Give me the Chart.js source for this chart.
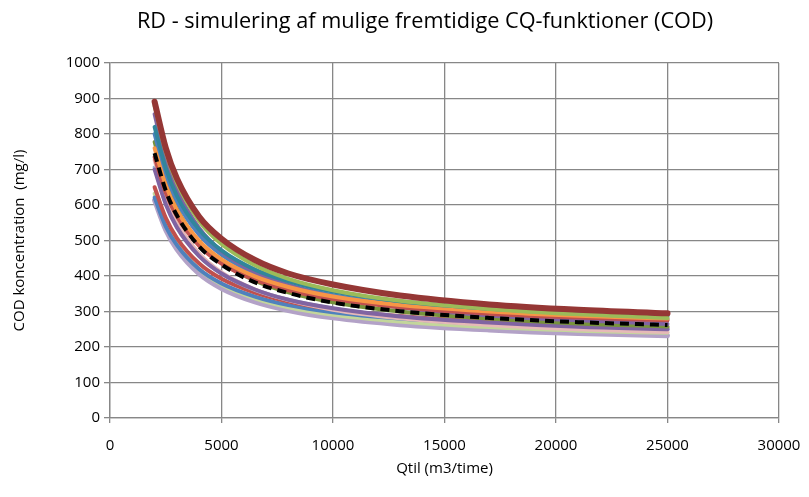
<!DOCTYPE html>
<html>
<head>
<meta charset="utf-8">
<script src="https://cdn.jsdelivr.net/npm/chart.js@4"></script>
<style>
  html, body { margin: 0; padding: 0; background: #fff; }
  #wrap { width: 809px; height: 497px; }
</style>
</head>
<body>
<div id="wrap"><canvas id="chart" width="809" height="497"></canvas></div>
<script>
// ── Data ──────────────────────────────────────────────────────────────────────
var qtil = [2000, 2500, 3000, 4000, 5000, 6500, 8000, 10000, 13000, 17000, 21000, 25000];

var meanCurve   = [746, 641, 571, 483, 432, 382, 352, 325, 301, 282, 270, 262];
var darkRed     = [891, 761, 675, 567, 505, 445, 407, 376, 345, 320, 305, 295];
var green       = [880, 750, 663, 555, 490, 430, 392, 360, 330, 307, 292, 282];
var purple      = [856, 727, 642, 535, 470, 411, 374, 342, 312, 289, 275, 265];
var teal        = [820, 704, 626, 530, 472, 418, 385, 356, 329, 308, 295, 286];
var blue        = [800, 686, 611, 516, 460, 407, 374, 346, 320, 300, 287, 278];
var olive       = [778, 665, 590, 495, 439, 387, 354, 326, 300, 280, 266, 258];
var orange      = [760, 656, 586, 499, 447, 399, 369, 342, 318, 300, 288, 280];
var red         = [735, 635, 568, 485, 435, 389, 360, 335, 312, 294, 283, 275];
var pink        = [726, 621, 551, 463, 410, 362, 332, 305, 281, 262, 250, 242];
var lightBlue   = [706, 606, 540, 457, 407, 361, 333, 308, 285, 267, 255, 248];
var purple2     = [700, 602, 537, 456, 407, 362, 333, 309, 286, 269, 257, 250];
var red2        = [650, 564, 507, 435, 392, 353, 328, 306, 287, 271, 261, 255];
var lightGreen  = [632, 547, 490, 419, 376, 337, 312, 291, 272, 256, 246, 240];
var blue2       = [621, 540, 487, 419, 379, 342, 318, 298, 280, 265, 256, 250];
var lavender    = [613, 530, 475, 406, 365, 327, 303, 282, 263, 248, 238, 232];

var xTicks = [0, 5000, 10000, 15000, 20000, 25000, 30000];
var yTicks = [0, 100, 200, 300, 400, 500, 600, 700, 800, 900, 1000];

var chartTitle = 'RD - simulering af mulige fremtidige CQ-funktioner (COD)';

// ── Helpers ───────────────────────────────────────────────────────────────────
function pts(vals) {
  return vals.map(function(v, i) { return { x: qtil[i], y: v }; });
}

function curve(vals, color, width) {
  return {
    data: pts(vals), borderColor: color, borderWidth: width || 4,
    pointRadius: 0, showLine: true, fill: false,
    cubicInterpolationMode: 'monotone', borderCapStyle: 'round'
  };
}

var font = "'Open Sans', 'Liberation Sans', sans-serif";

var mean = curve(meanCurve, '#000000', 4);
mean.borderDash = [9, 6];
mean.borderCapStyle = 'butt';

// first dataset is drawn on top
var datasets = [
  mean,
  curve(darkRed, '#953735', 6),
  curve(green, '#9BBB59'),
  curve(teal, '#31859C'),
  curve(orange, '#F79646'),
  curve(red, '#C0504D'),
  curve(purple, '#8064A2'),
  curve(blue, '#4F81BD'),
  curve(olive, '#77933C'),
  curve(purple2, '#8064A2'),
  curve(pink, '#E6B9B8'),
  curve(lightBlue, '#95B3D7'),
  curve(red2, '#C0504D'),
  curve(blue2, '#4F81BD'),
  curve(lightGreen, '#C3D69B'),
  curve(lavender, '#B3A2C7', 5)
];

function plain(v) { return String(v); }

// title sits a bit left of the canvas centre in the original, so draw it here
var titlePlugin = {
  id: 'offTitle',
  afterDraw: function(chart) {
    var ctx = chart.ctx;
    ctx.save();
    ctx.fillStyle = '#000';
    ctx.font = '21.7px ' + font;
    ctx.textAlign = 'center';
    ctx.textBaseline = 'middle';
    ctx.fillText(chartTitle, 425, 22);
    ctx.restore();
  }
};

// ── Chart ─────────────────────────────────────────────────────────────────────
new Chart(document.getElementById('chart'), {
  type: 'scatter',
  data: { datasets: datasets },
  plugins: [titlePlugin],
  options: {
    responsive: false, animation: false,
    layout: { padding: { top: 63, right: 30, left: 0, bottom: 0 } },
    plugins: {
      legend: { display: false },
      tooltip: { enabled: false },
      title: { display: false }
    },
    scales: {
      x: {
        type: 'linear', min: 0, max: 30000,
        afterBuildTicks: function(s) { s.ticks = xTicks.map(function(v) { return { value: v }; }); },
        afterFit: function(s) { s.height = 79; s.paddingLeft = 0; s.paddingRight = 0; },
        grid: { color: '#878787', lineWidth: 1.3, tickLength: 5 },
        border: { color: '#878787', width: 1.3 },
        ticks: { color: '#000', font: { family: font, size: 15 }, padding: 14, maxRotation: 0, callback: plain },
        title: { display: true, text: 'Qtil (m3/time)', color: '#000',
                 font: { family: font, size: 15 }, padding: { top: 4, bottom: 19 } }
      },
      y: {
        min: 0, max: 1000,
        afterBuildTicks: function(s) { s.ticks = yTicks.map(function(v) { return { value: v }; }); },
        afterFit: function(s) { s.width = 110; },
        grid: { color: '#878787', lineWidth: 1.3, tickLength: 6 },
        border: { color: '#878787', width: 1.3 },
        ticks: { color: '#000', font: { family: font, size: 15 }, padding: 4, callback: plain },
        title: { display: true, text: 'COD koncentration  (mg/l)', color: '#000',
                 font: { family: font, size: 15 }, padding: { top: 11, bottom: 4 } }
      }
    }
  }
});
</script>
</body>
</html>
